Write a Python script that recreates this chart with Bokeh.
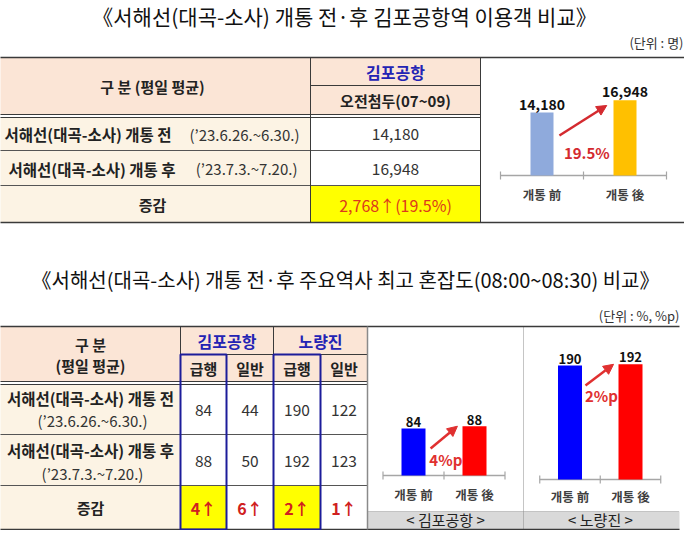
from bokeh.plotting import figure
from bokeh.models import Range1d, Arrow, NormalHead
from bokeh.core.properties import value
from bokeh.embed import file_html
from bokeh.resources import INLINE

# ---------------- data ----------------
title_top = "《서해선(대곡-소사) 개통 전·후 김포공항역 이용객 비교》"
unit_top = "(단위 : 명)"
header_top = "구 분 (평일 평균)"
station_top = "김포공항"
period_top = "오전첨두(07~09)"
row_labels_top = ["서해선(대곡-소사) 개통 전", "서해선(대곡-소사) 개통 후"]
row_dates = ["(’23.6.26.~6.30.)", "(’23.7.3.~7.20.)"]
change_label = "증감"
riders = [14180, 16948]
bar_cats = ["개통 前", "개통 後"]

title_bottom = "《서해선(대곡-소사) 개통 전·후 주요역사 최고 혼잡도(08:00~08:30) 비교》"
unit_bottom = "(단위 : %, %p)"
header_bottom = ["구 분", "(평일 평균)"]
stations = ["김포공항", "노량진"]
train_types = ["급행", "일반"]
cong_before = [84, 44, 190, 122]   # 김포공항 급행, 일반, 노량진 급행, 일반
cong_after = [88, 50, 192, 123]

# ---------------- styles ----------------
FONT = value("Noto Sans CJK KR")
PEACH = "#FBE5D6"
CREAM = "#FCF3E4"
YELLOW = "#FFFF00"
NAVY_TXT = "#2323B4"
LINE = "#3A3A3A"

XL, XR = 8, 692
YB, YT = 538, 8

p = figure(width=684, height=530, x_range=Range1d(XL, XR), y_range=Range1d(YB, YT),
           x_axis_type=None, y_axis_type=None, output_backend="svg",
           toolbar_location=None, min_border=0)
p.grid.visible = False
p.outline_line_color = None
p.background_fill_color = "white"


def txt(x, y, s, size=15, bold=False, color="#222222", align="center", baseline="middle", **kw):
    p.text(x=[x], y=[y], text=[s], text_font=FONT, text_font_size=f"{size}px",
           text_font_style="bold" if bold else "normal", text_color=color,
           text_align=align, text_baseline=baseline, **kw)


def hline(x0, x1, y, color=LINE, w=1.0, dash="solid"):
    p.segment(x0=[x0], y0=[y], x1=[x1], y1=[y], line_color=color, line_width=w, line_dash=dash)


def vline(x, y0, y1, color=LINE, w=1.0, dash="solid"):
    p.segment(x0=[x], y0=[y0], x1=[x], y1=[y1], line_color=color, line_width=w, line_dash=dash)


def rect(l, r, t, b, color):
    p.quad(left=[l], right=[r], top=[t], bottom=[b], fill_color=color, line_color=None)


# ================= TOP SECTION =================
txt(352, 23, title_top, size=21, color="#111111")
txt(691, 50, unit_top, size=13, color="#333333", align="right")

tx0, txm, txr, txend = 2, 318, 488, 697
ty = [65, 93, 122, 125, 158, 193, 230]

rect(tx0, txr, ty[0], ty[2], PEACH)
rect(tx0, txm, ty[3], ty[6], CREAM)
rect(txm, txr, ty[5], ty[6], YELLOW)

hline(tx0, txend, ty[0], w=1.6)
hline(txm, txr, ty[1])
hline(tx0, txr, ty[2])
hline(tx0, txr, ty[3])
hline(tx0, txr, ty[4], color="#555555")
hline(tx0, txr, ty[5], color="#555555")
hline(tx0, txend, ty[6], w=1.6)
vline(txm, ty[0], ty[6])
vline(txr, ty[0], ty[6])

txt(160, 94, header_top, size=15, bold=True)
txt(403, 79, station_top, size=16, bold=True, color=NAVY_TXT)
txt(403, 108, period_top, size=15, bold=True)

row_y_top = [141.5, 176]
label_x = [12, 16]
date_x = [307, 305]
for i in range(2):
    txt(label_x[i], row_y_top[i], row_labels_top[i], size=15.5, bold=True, align="left")
    txt(date_x[i], row_y_top[i], row_dates[i], size=15, color="#333333", align="right")
    txt(403, row_y_top[i], f"{riders[i]:,}", size=15.5, color="#333333")

diff_top = riders[1] - riders[0]
pct_top = diff_top / riders[0] * 100
txt(160, 212, change_label, size=15, bold=True)
txt(403, 212, f"{diff_top:,}↑({pct_top:.1f}%)", size=16, color="#DC3A1C")

# ---- bar charts (own scales) ----
charts = {
    # name: (baseline px, px per unit, first bar center px, bar spacing px)
    "top": (183, 63 / riders[0], 549.5, 83),
    "bl": (483, 0.56, 421, 61),
    "br": (487, 0.60, 577.5, 60.5),
}
p.extra_y_ranges = {n: Range1d(start=(b - YB) / k, end=(b - YT) / k) for n, (b, k, c, d) in charts.items()}
p.extra_x_ranges = {n: Range1d(start=(XL - c) / d, end=(XR - c) / d) for n, (b, k, c, d) in charts.items()}


def bar_chart(name, vals, colors, width_px, label_size, cat_size, cat_off, label_off,
              pct_text, pct_pos, arrow_pts, red):
    b, k, c, d = charts[name]
    kw = dict(x_range_name=name, y_range_name=name)
    p.segment(x0=[-0.5], y0=[0], x1=[1.5], y1=[0], line_color="#A6A6A6", line_width=1.5, **kw)
    t = 4 / k
    p.segment(x0=[-0.5, 0.5, 1.5], y0=[-t] * 3, x1=[-0.5, 0.5, 1.5], y1=[t] * 3,
              line_color="#A6A6A6", line_width=1.2, **kw)
    p.vbar(x=[0, 1], top=vals, bottom=0, width=width_px / d, fill_color=colors, line_color=None, **kw)
    p.text(x=[0, 1], y=vals, text=[f"{v:,}" for v in vals], text_font=FONT,
           text_font_size=f"{label_size}px", text_font_style="bold", text_color="#111111",
           text_align="center", text_baseline="bottom", y_offset=label_off, **kw)
    p.text(x=[0, 1], y=[0, 0], text=bar_cats, text_font=FONT, text_font_size=f"{cat_size}px",
           text_font_style="bold", text_color="#404040", text_align="center",
           text_baseline="middle", y_offset=cat_off, **kw)
    (xs, ys), (xe, ye) = arrow_pts
    p.add_layout(Arrow(end=NormalHead(size=10, fill_color=red, line_color=red),
                       x_start=xs, y_start=ys, x_end=xe, y_end=ye,
                       line_color=red, line_width=2.5, **kw))
    p.text(x=[pct_pos[0]], y=[pct_pos[1]], text=[pct_text], text_font=FONT,
           text_font_size="15px", text_font_style="bold", text_color=red,
           text_align="center", text_baseline="middle", **kw)


bar_chart("top", riders, ["#8FAADC", "#FFC000"], 23, 14, 12.5, 19, -3,
          f"{pct_top:.1f}%", (0.54, 0.36 * riders[0]),
          ((0.21, 0.635 * riders[0]), (0.78, 0.93 * riders[1])), "#D42A2F")

# ================= BOTTOM SECTION =================
txt(353, 287, title_bottom, size=20, color="#111111")
txt(687, 323, unit_bottom, size=13, color="#333333", align="right")

bx = [3, 188, 234, 281, 328, 375]
bxend = 687
by = [334, 362, 389, 392, 442, 493, 537]

rect(bx[0], bx[5], by[0], by[2], PEACH)
rect(bx[0], bx[1], by[3], by[6], CREAM)
rect(bx[1], bx[2], by[5], by[6], YELLOW)
rect(bx[3], bx[4], by[5], by[6], YELLOW)

rect(bx[5], bxend, 519, by[6], "#D9D9D9")
hline(bx[5], bxend, 519, color="#9A9A9A", dash="1 1")
vline(531, by[0], by[6], color="#8A8A8A", dash="1 1")

hline(bx[0], bxend, by[0], w=1.6)
hline(bx[1], bx[5], by[1])
hline(bx[0], bx[5], by[2])
hline(bx[0], bx[5], by[3])
hline(bx[0], bx[5], by[4], color="#555555")
hline(bx[0], bx[5], by[5], color="#555555")
hline(bx[0], bxend, by[6], w=1.6)
vline(bx[1], by[0], by[6])
vline(bx[3], by[0], by[6])
vline(bx[2], by[1], by[6])
vline(bx[4], by[1], by[6])
vline(bx[5], by[0], by[6], color="#8A8A8A", w=1.5)

p.quad(left=[bx[1], bx[3]], right=[bx[2], bx[4]], top=[by[1]] * 2, bottom=[by[6]] * 2,
       fill_color=None, line_color="#1C1C9A", line_width=2)

txt(98, 352, header_bottom[0], size=15, bold=True)
txt(98, 373, header_bottom[1], size=15, bold=True)
txt((bx[1] + bx[3]) / 2, 348, stations[0], size=16, bold=True, color=NAVY_TXT)
txt((bx[3] + bx[5]) / 2, 348, stations[1], size=16, bold=True, color=NAVY_TXT)
centers = [(bx[i] + bx[i + 1]) / 2 for i in range(1, 5)]
for j, cx in enumerate(centers):
    txt(cx, 376, train_types[j % 2], size=15, bold=True)

row_y_b = [(405, 428, 417), (457, 481, 468)]
for i in range(2):
    ly, dy, vy = row_y_b[i]
    txt(98, ly, row_labels_top[i], size=15.5, bold=True)
    txt(100, dy, row_dates[i], size=15, color="#333333")
    vals = cong_before if i == 0 else cong_after
    for j, cx in enumerate(centers):
        txt(cx, vy, f"{vals[j]}", size=15.5, color="#333333")

txt(98, 515, change_label, size=15, bold=True)
for j, cx in enumerate(centers):
    txt(cx, 515, f"{cong_after[j] - cong_before[j]}↑", size=16, bold=True, color="#D02020")

bl_vals = [cong_before[0], cong_after[0]]
br_vals = [cong_before[2], cong_after[2]]
bar_chart("bl", bl_vals, ["#0000FF", "#FF0000"], 24, 13, 12.5, 19, -1,
          f"{bl_vals[1] - bl_vals[0]}%p", (0.53, 0.34 * bl_vals[0]),
          ((0.28, 0.574 * bl_vals[0]), (0.72, 1.0 * bl_vals[1])), "#E03030")
bar_chart("br", br_vals, ["#0000FF", "#FF0000"], 24, 13, 12.5, 17, -2,
          f"{br_vals[1] - br_vals[0]}%p", (0.52, 0.737 * br_vals[0]),
          ((0.256, 0.825 * br_vals[0]), (0.72, 1.0 * br_vals[1])), "#E03030")

txt(453, 527, f"< {stations[0]} >", size=15, color="#222222")
txt(608, 527, f"< {stations[1]} >", size=15, color="#222222")

open("out.html", "w").write(file_html(p, INLINE))
